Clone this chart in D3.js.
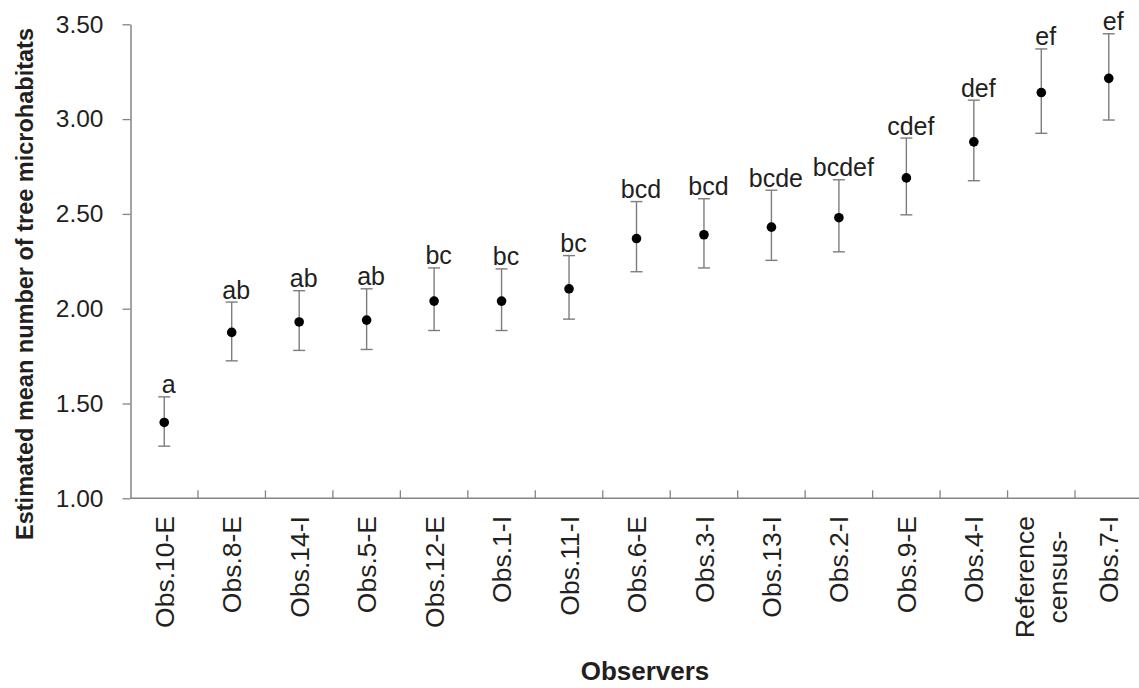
<!DOCTYPE html>
<html>
<head>
<meta charset="utf-8">
<script src="https://cdn.jsdelivr.net/npm/d3@7"></script>
<style>
  html, body { margin: 0; padding: 0; background: #fff; }
  svg { display: block; }
  text { font-family: "Liberation Sans", Arial, sans-serif; fill: #231f20; }
</style>
</head>
<body>
<svg id="chart" width="1139" height="688"></svg>
<script>
// Observers, ordered by estimated mean
const observers = ["Obs.10-E", "Obs.8-E", "Obs.14-I", "Obs.5-E", "Obs.12-E", "Obs.1-I", "Obs.11-I",
  "Obs.6-E", "Obs.3-I", "Obs.13-I", "Obs.2-I", "Obs.9-E", "Obs.4-I", "Reference\ncensus-", "Obs.7-I"];
// Estimated mean number of tree microhabitats
const means = [1.40, 1.875, 1.93, 1.94, 2.04, 2.04, 2.105, 2.37, 2.39, 2.43, 2.48, 2.69, 2.88, 3.14, 3.215];
// Confidence interval bounds
const upper = [1.535, 2.035, 2.095, 2.105, 2.215, 2.21, 2.28, 2.565, 2.58, 2.625, 2.68, 2.90, 3.10, 3.37, 3.45];
const lower = [1.275, 1.725, 1.78, 1.785, 1.885, 1.885, 1.945, 2.195, 2.215, 2.255, 2.30, 2.495, 2.675, 2.925, 2.995];
// Homogeneous group letters
const groups = ["a", "ab", "ab", "ab", "bc", "bc", "bc", "bcd", "bcd", "bcde", "bcdef", "cdef", "def", "ef", "ef"];
// Y axis ticks
const yTicks = [1.00, 1.50, 2.00, 2.50, 3.00, 3.50];

const rows = observers.map((o, i) => ({ o, m: means[i], hi: upper[i], lo: lower[i], g: groups[i] }));

const svg = d3.select("#chart");
const axisColor = "#858585";

const x = d3.scaleBand().domain(observers).range([130.5, 1142.5]).padding(0);
const y = d3.scaleLinear().domain([1, 3.5]).range([498.3, 24.3]);

// Y axis
const yAxis = svg.append("g")
  .attr("transform", `translate(${x.range()[0]},0)`)
  .call(d3.axisLeft(y).tickValues(yTicks).tickFormat(d3.format(".2f")).tickSize(8).tickPadding(19).tickSizeOuter(0));
yAxis.select(".domain").attr("stroke", axisColor).attr("stroke-width", 1.5);
yAxis.selectAll(".tick line").attr("stroke", axisColor).attr("stroke-width", 1.3);
yAxis.selectAll(".tick text").attr("font-size", 24.5).attr("fill", "#231f20")
  .style("font-family", '"Liberation Sans", Arial, sans-serif');

// X axis line with tick marks between categories, pointing up into the plot
const xAxis = svg.append("g");
xAxis.append("line")
  .attr("x1", x.range()[0]).attr("x2", x.range()[1])
  .attr("y1", y(1)).attr("y2", y(1))
  .attr("stroke", axisColor).attr("stroke-width", 1.5);
xAxis.selectAll("line.sep")
  .data(observers.slice(1))
  .join("line").attr("class", "sep")
  .attr("x1", d => x(d)).attr("x2", d => x(d))
  .attr("y1", y(1)).attr("y2", y(1) - 8)
  .attr("stroke", axisColor).attr("stroke-width", 1.3);

// Category labels, rotated, ending just below the axis; multi-line labels centred
const labelEnd = 516;
const fs = 26.5;
const lineGap = 33;
observers.forEach(name => {
  const lines = name.split("\n");
  const cx = x(name) + x.bandwidth() / 2;
  const g = xAxis.append("g");
  const texts = lines.map(ln => g.append("text")
    .attr("dy", "0.36em")
    .attr("font-size", fs)
    .text(ln));
  const maxLen = d3.max(texts, t => t.node().getComputedTextLength());
  texts.forEach((t, j) => {
    const off = (j - (lines.length - 1) / 2) * lineGap;
    if (lines.length === 1) {
      t.attr("transform", `translate(${cx + off},${labelEnd}) rotate(-90)`).attr("text-anchor", "end");
    } else {
      t.attr("transform", `translate(${cx + off},${labelEnd + maxLen / 2}) rotate(-90)`).attr("text-anchor", "middle");
    }
  });
});

// Error bars
const capW = 6;
const bars = svg.append("g").attr("stroke", "#7d7d7d").attr("stroke-width", 1.4).attr("fill", "none");
rows.forEach(r => {
  const cx = x(r.o) + x.bandwidth() / 2;
  bars.append("line").attr("x1", cx).attr("x2", cx).attr("y1", y(r.lo)).attr("y2", y(r.hi));
  bars.append("line").attr("x1", cx - capW).attr("x2", cx + capW).attr("y1", y(r.hi)).attr("y2", y(r.hi));
  bars.append("line").attr("x1", cx - capW).attr("x2", cx + capW).attr("y1", y(r.lo)).attr("y2", y(r.lo));
});

// Mean points
svg.append("g").selectAll("circle")
  .data(rows).join("circle")
  .attr("cx", d => x(d.o) + x.bandwidth() / 2)
  .attr("cy", d => y(d.m))
  .attr("r", 4.8)
  .attr("fill", "#000");

// Group letters above the upper bounds
svg.append("g").selectAll("text")
  .data(rows).join("text")
  .attr("x", d => x(d.o) + x.bandwidth() / 2 + 4.5)
  .attr("y", d => y(d.hi) - 3.5)
  .attr("text-anchor", "middle")
  .attr("font-size", 25)
  .text(d => d.g);

// Axis titles
svg.append("text")
  .attr("transform", "translate(33,284) rotate(-90)")
  .attr("text-anchor", "middle")
  .attr("font-size", 23.5)
  .attr("font-weight", "bold")
  .text("Estimated mean number of tree microhabitats");

svg.append("text")
  .attr("x", 645).attr("y", 680)
  .attr("text-anchor", "middle")
  .attr("font-size", 26)
  .attr("font-weight", "bold")
  .text("Observers");
</script>
</body>
</html>
